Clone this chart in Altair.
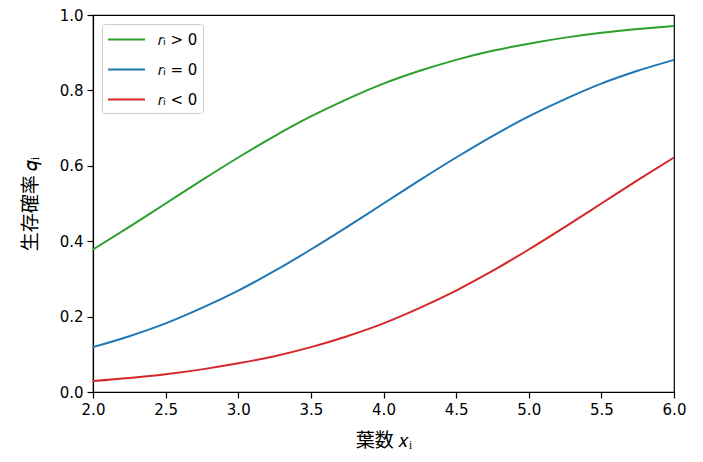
import altair as alt
import pandas as pd

x_vals = [2.0, 2.25, 2.5, 2.75, 3.0, 3.25, 3.5, 3.75, 4.0, 4.25, 4.5, 4.75, 5.0, 5.25, 5.5, 5.75, 6.0]
q_pos = [0.378, 0.438, 0.500, 0.562, 0.622, 0.679, 0.731, 0.777, 0.818, 0.852, 0.881, 0.905, 0.924, 0.940, 0.953, 0.963, 0.971]
q_zero = [0.119, 0.148, 0.182, 0.223, 0.269, 0.321, 0.378, 0.438, 0.500, 0.562, 0.622, 0.679, 0.731, 0.777, 0.818, 0.852, 0.881]
q_neg = [0.029, 0.037, 0.047, 0.060, 0.076, 0.095, 0.119, 0.148, 0.182, 0.223, 0.269, 0.321, 0.378, 0.438, 0.500, 0.562, 0.622]

series_names = ["𝑟ᵢ > 0", "𝑟ᵢ = 0", "𝑟ᵢ < 0"]
series_colors = ["#2ca02c", "#1f77b4", "#d62728"]
x_ticks = [2.0, 2.5, 3.0, 3.5, 4.0, 4.5, 5.0, 5.5, 6.0]
y_ticks = [0.0, 0.2, 0.4, 0.6, 0.8, 1.0]

rows = []
for name, vals in zip(series_names, [q_pos, q_zero, q_neg]):
    for xv, qv in zip(x_vals, vals):
        rows.append({"x": xv, "q": qv, "series": name})
df = pd.DataFrame(rows)

chart = alt.Chart(df).mark_line(strokeWidth=2, interpolate="monotone").encode(
    x=alt.X("x:Q", scale=alt.Scale(domain=[2, 6], nice=False, zero=False),
            axis=alt.Axis(values=x_ticks, format=".1f", title="葉数 𝑥ᵢ")),
    y=alt.Y("q:Q", scale=alt.Scale(domain=[0, 1], nice=False),
            axis=alt.Axis(values=y_ticks, format=".1f", title="生存確率 𝑞ᵢ")),
    color=alt.Color("series:N", sort=series_names,
                    scale=alt.Scale(domain=series_names, range=series_colors),
                    legend=alt.Legend(title=None, orient="top-left", symbolType="M-2,0H2",
                                      symbolSize=342, symbolStrokeWidth=2, symbolOffset=9,
                                      labelFontSize=15, labelFont="DejaVu Sans", labelColor="black",
                                      fillColor="white", strokeColor="#cccccc", cornerRadius=3,
                                      padding=5, rowPadding=11, offset=9, labelOffset=21)),
).properties(
    width=581, height=377,
    autosize=alt.AutoSizeParams(type="none"),
    padding={"left": 85, "top": 7, "right": 20, "bottom": 60},
).configure_view(
    stroke="black", strokeWidth=1.2
).configure_axis(
    grid=False, domainColor="black", tickColor="black", domainWidth=1.2, tickWidth=1.2,
    tickSize=6, labelFont="DejaVu Sans", labelFontSize=15, labelColor="black",
    titleFont="Noto Sans CJK JP", titleFontSize=19, titleFontWeight="normal", titleColor="black",
    labelPadding=4, labelFlush=False
).configure_axisY(titlePadding=19).configure_axisX(titlePadding=14)

chart.save("out.html", embed_options={"renderer": "svg", "actions": False})
